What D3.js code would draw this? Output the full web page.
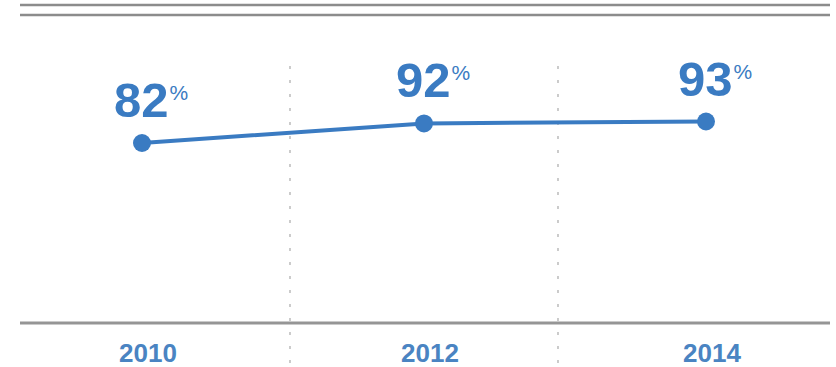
<!DOCTYPE html>
<html>
<head>
<meta charset="utf-8">
<script src="https://cdn.jsdelivr.net/npm/d3@7"></script>
<style>
  body { margin: 0; background: #fff; }
  svg { display: block; font-family: "Liberation Sans", Arial, sans-serif; }
</style>
</head>
<body>
<svg width="836" height="367"></svg>
<script>
// data
const years = ["2010", "2012", "2014"];
const values = [82, 92, 93];
const separators = [2011, 2013];

const blue = "#3a7bc2";
const labelBlue = "#4a84c2";
const grey = "#959595";

let svg = d3.select("svg");

let x = d3.scaleLinear()
  .domain([2010, 2014])
  .range([142, 706]);

let y = d3.scaleLinear()
  .domain([82, 93])
  .range([143, 121.5]);

// double rule at top
svg.selectAll(".topRule")
  .data([5, 15])
  .enter()
  .append("line")
  .attr("class", "topRule")
  .attr("x1", 20).attr("x2", 830)
  .attr("y1", d => d).attr("y2", d => d)
  .attr("stroke", "#8c8c8c")
  .attr("stroke-width", 2.5);

// dotted separators
svg.selectAll(".sep")
  .data(separators)
  .enter()
  .append("line")
  .attr("class", "sep")
  .attr("x1", d => x(d) + 7 * (d === 2011 ? 1 : -1))
  .attr("x2", d => x(d) + 7 * (d === 2011 ? 1 : -1))
  .attr("y1", 66).attr("y2", 367)
  .attr("stroke", "#aaa")
  .attr("stroke-width", 1.2)
  .attr("stroke-dasharray", "3,11");

// baseline axis
svg.append("line")
  .attr("x1", 20).attr("x2", 830)
  .attr("y1", 323).attr("y2", 323)
  .attr("stroke", grey)
  .attr("stroke-width", 3);

// year labels
svg.selectAll(".year")
  .data(years)
  .enter()
  .append("text")
  .attr("class", "year")
  .attr("x", d => x(+d) + 6)
  .attr("y", 362)
  .attr("text-anchor", "middle")
  .attr("font-size", 26)
  .attr("font-weight", "bold")
  .attr("fill", labelBlue)
  .text(d => d);

let pts = years.map((d, i) => ({year: +d, value: values[i]}));

// line
svg.append("path")
  .datum(pts)
  .attr("fill", "none")
  .attr("stroke", blue)
  .attr("stroke-width", 4)
  .attr("d", d3.line().x(d => x(d.year)).y(d => y(d.value)));

// dots
svg.selectAll(".dot")
  .data(pts)
  .enter()
  .append("circle")
  .attr("class", "dot")
  .attr("cx", d => x(d.year))
  .attr("cy", d => y(d.value))
  .attr("r", 9)
  .attr("fill", blue);

// value labels: digits centred on the dot, % as a superscript
let lbl = svg.selectAll(".val")
  .data(pts)
  .enter()
  .append("text")
  .attr("class", "val")
  .attr("x", d => x(d.year) - 28)
  .attr("y", d => y(d.value) - 26)
  .attr("font-weight", "bold")
  .attr("fill", blue);

lbl.append("tspan")
  .attr("font-size", 49)
  .text(d => d.value);

lbl.append("tspan")
  .attr("font-size", 21)
  .attr("font-weight", "normal")
  .attr("dx", 1)
  .attr("dy", -17)
  .text("%");
</script>
</body>
</html>
